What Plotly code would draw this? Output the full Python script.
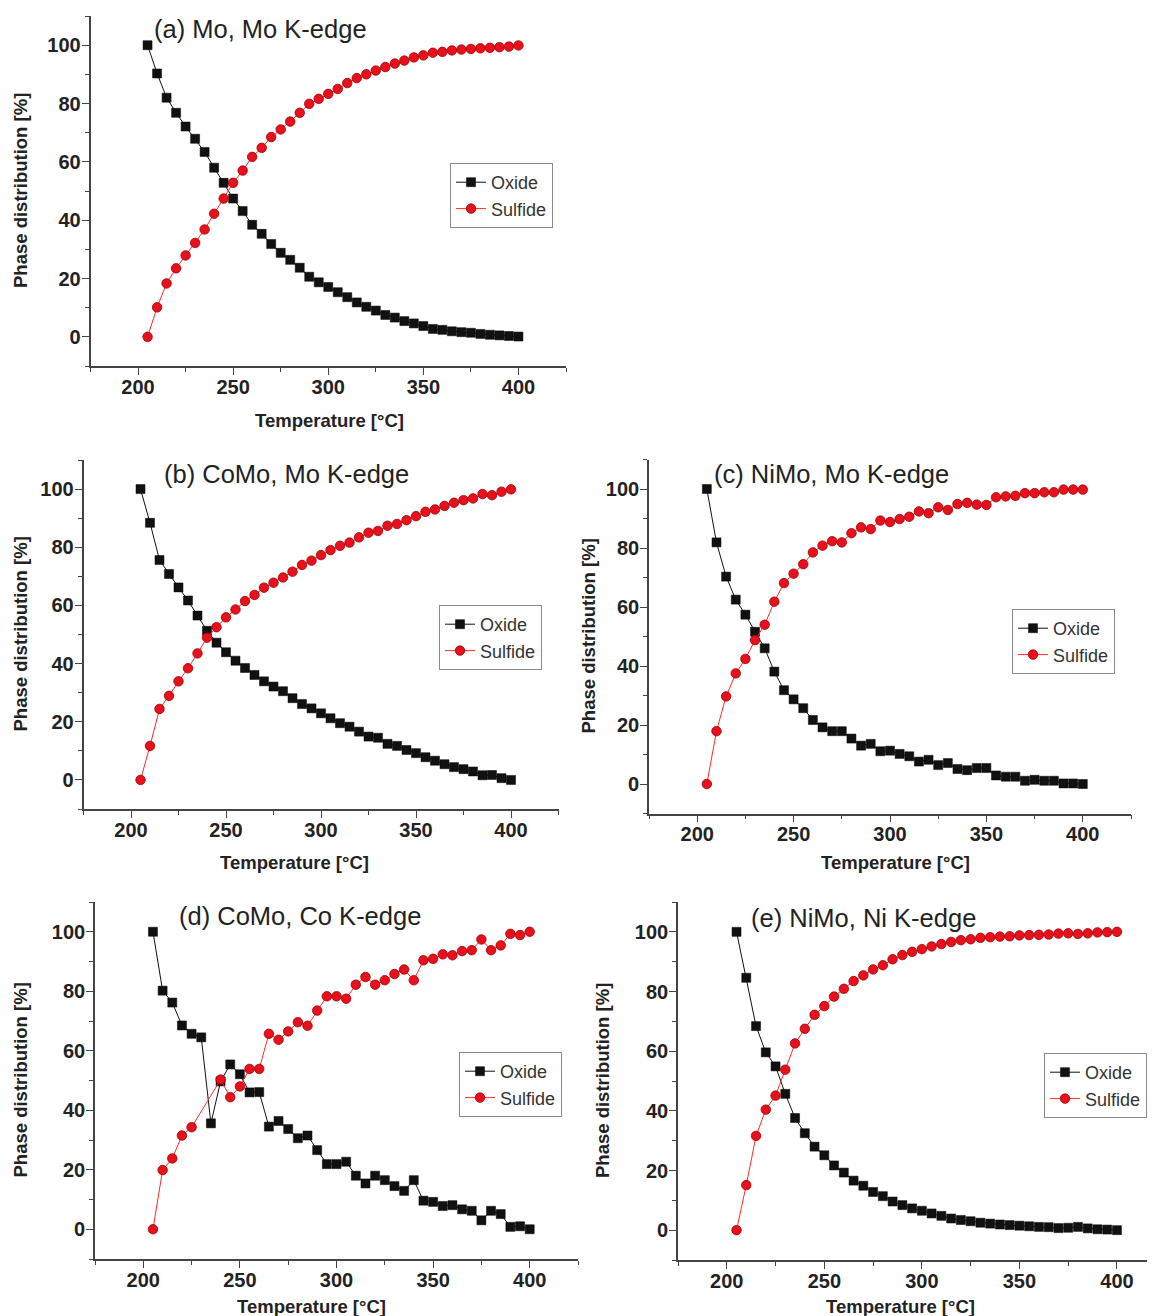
import plotly.graph_objects as go

# ---------------- data ----------------
temperature = [205, 210, 215, 220, 225, 230, 235, 240, 245, 250,
               255, 260, 265, 270, 275, 280, 285, 290, 295, 300,
               305, 310, 315, 320, 325, 330, 335, 340, 345, 350,
               355, 360, 365, 370, 375, 380, 385, 390, 395, 400]

a_oxide = [100, 90.3, 82.0, 76.8, 72.1, 67.9, 63.4, 58.0, 52.8, 47.4,
           43.1, 38.4, 35.3, 31.8, 28.8, 26.4, 23.7, 20.6, 18.7, 17.1,
           15.3, 13.6, 11.8, 10.3, 9.0, 7.5, 6.6, 5.4, 4.6, 3.7,
           2.7, 2.4, 1.9, 1.6, 1.4, 1.0, 0.7, 0.5, 0.3, 0.1]
a_sulfide = [0, 10.1, 18.3, 23.5, 27.9, 32.2, 36.8, 42.2, 47.4, 52.8,
             57.0, 61.7, 64.8, 68.5, 71.1, 73.8, 76.8, 79.9, 81.6, 83.3,
             85.0, 87.0, 88.7, 90.0, 91.3, 92.5, 93.7, 94.7, 95.8, 96.5,
             97.4, 97.7, 98.2, 98.5, 98.7, 98.9, 99.1, 99.3, 99.5, 99.9]

b_oxide = [100, 88.4, 75.6, 70.8, 66.2, 61.7, 56.5, 51.3, 47.2, 43.9,
           41.0, 38.5, 36.1, 33.9, 32.1, 30.5, 28.1, 26.1, 24.6, 22.9,
           21.2, 19.5, 18.3, 16.6, 14.9, 14.5, 12.4, 11.7, 10.3, 9.2,
           7.8, 6.6, 5.4, 4.4, 3.7, 2.9, 1.6, 1.7, 0.6, 0.0]
b_sulfide = [0, 11.7, 24.4, 28.9, 33.9, 38.4, 43.5, 48.9, 52.5, 55.9,
             58.6, 61.5, 63.6, 66.1, 67.8, 69.6, 71.6, 73.9, 75.4, 77.3,
             79.0, 80.5, 81.6, 83.4, 85.0, 85.6, 87.4, 88.0, 89.3, 90.7,
             92.2, 93.0, 94.2, 95.3, 96.2, 96.8, 98.3, 97.9, 99.1, 99.9]

c_oxide = [100, 81.9, 70.3, 62.5, 57.4, 51.6, 46.0, 38.1, 31.8, 28.7,
           25.7, 21.7, 19.2, 17.9, 17.9, 15.4, 13.0, 13.6, 11.1, 11.3,
           10.2, 9.4, 7.6, 8.2, 6.4, 7.1, 5.1, 4.7, 5.4, 5.4,
           2.9, 2.5, 2.5, 1.1, 1.4, 1.1, 1.1, 0.2, 0.2, 0.0]
c_sulfide = [0, 17.9, 29.7, 37.5, 42.4, 48.8, 54.0, 61.8, 68.1, 71.3,
             74.5, 78.5, 80.8, 82.3, 81.9, 85.0, 87.0, 86.4, 89.3, 88.8,
             89.8, 90.6, 92.4, 91.8, 93.8, 92.9, 94.9, 95.3, 94.7, 94.6,
             97.2, 97.5, 97.7, 98.6, 98.6, 98.9, 98.9, 99.8, 99.8, 99.8]

d_oxide = [100, 80.2, 76.2, 68.5, 65.7, 64.5, 35.6, 49.7, 55.4, 52.1,
           46.0, 46.1, 34.5, 36.4, 33.7, 30.6, 31.5, 26.6, 21.9, 21.9,
           22.7, 18.0, 15.4, 18.0, 16.5, 14.5, 12.9, 16.5, 9.6, 9.2,
           7.8, 8.1, 6.7, 6.2, 3.0, 6.2, 5.1, 0.8, 1.0, 0.0]
d_sulfide = [0, 19.9, 23.8, 31.5, 34.3, None, None, 50.3, 44.4, 48.0,
             53.9, 53.9, 65.7, 63.7, 66.5, 69.6, 68.4, 73.5, 78.3, 78.3,
             77.5, 82.2, 84.8, 82.2, 83.7, 85.8, 87.3, 83.7, 90.4, 90.9,
             92.4, 92.1, 93.5, 93.8, 97.4, 93.8, 95.4, 99.3, 98.9, 100.0]

e_oxide = [100, 84.6, 68.4, 59.6, 54.9, 45.7, 37.6, 32.5, 28.0, 25.1,
           21.7, 19.3, 16.6, 14.9, 12.8, 11.4, 9.6, 8.4, 7.3, 6.5,
           5.6, 4.8, 3.9, 3.4, 3.0, 2.5, 2.2, 1.9, 1.7, 1.5,
           1.3, 1.1, 1.0, 0.7, 0.8, 1.1, 0.6, 0.3, 0.2, 0.0]
e_sulfide = [0, 15.1, 31.6, 40.4, 45.1, 53.8, 62.6, 67.5, 72.2, 75.1,
             78.3, 80.9, 83.5, 85.4, 87.4, 88.8, 90.8, 92.2, 93.3, 94.2,
             95.1, 95.9, 96.6, 97.2, 97.5, 98.0, 98.2, 98.4, 98.5, 98.8,
             98.9, 99.0, 99.1, 99.4, 99.5, 99.3, 99.5, 99.8, 99.9, 100.0]

panel_titles = ["(a) Mo, Mo K-edge", "(b) CoMo, Mo K-edge", "(c) NiMo, Mo K-edge",
                "(d) CoMo, Co K-edge", "(e) NiMo, Ni K-edge"]
series_names = ["Oxide", "Sulfide"]
x_title = "Temperature [°C]"
y_title = "Phase distribution [%]"

oxide_sets = [a_oxide, b_oxide, c_oxide, d_oxide, e_oxide]
sulfide_sets = [a_sulfide, b_sulfide, c_sulfide, d_sulfide, e_sulfide]

# ---------------- layout (page pixels of a 1155 x 1316 window) ----------------
OFF = 8                      # default body margin of the html page
W, H = 1155 - OFF, 1316 - OFF

# plot box in page pixels: left, right, top, bottom
boxes = [
    (90.5, 566, 16, 366),
    (83.5, 558.5, 460, 809),
    (649, 1131, 459.5, 813.5),
    (95, 578, 902, 1259),
    (678, 1155, 902, 1260),
]
x_ranges = [[175, 425], [175, 425], [175, 425], [175, 425], [175, 419.5]]
title_pos = [(152, 29), (162, 474), (712, 474), (177, 916), (749, 918)]
legend_pos = [(450, 163), (439, 605), (1012, 609), (459, 1052), (1044, 1053)]
xtitle_pos = [(329, 420), (294, 862), (895, 862), (311, 1306), (900, 1306)]
ytitle_x = [20, 20, 588, 20, 602]


def px(x):
    return (x - OFF) / W


def py(y):
    return 1 - (y - OFF) / H


FONT = "Liberation Sans, Arial, sans-serif"
TXT = "#222222"
AX = "#444444"

fig = go.Figure()
layout = dict(
    width=W, height=H,
    margin=dict(l=0, r=0, t=0, b=0, autoexpand=False),
    paper_bgcolor="white", plot_bgcolor="white",
    font=dict(family=FONT, color=TXT),
    annotations=[],
)

for i in range(5):
    sfx = "" if i == 0 else str(i + 1)
    xa, ya = "x" + sfx, "y" + sfx
    lg = "legend" + sfx
    l, r, t, b = boxes[i]

    fig.add_trace(go.Scatter(
        x=temperature, y=oxide_sets[i], name=series_names[0],
        mode="lines+markers", xaxis=xa, yaxis=ya, legend=lg,
        line=dict(color="#111111", width=1),
        marker=dict(symbol="square", size=9, color="#111111",
                    line=dict(color="#000000", width=0.5)),
        connectgaps=True,
    ))
    fig.add_trace(go.Scatter(
        x=temperature, y=sulfide_sets[i], name=series_names[1],
        mode="lines+markers", xaxis=xa, yaxis=ya, legend=lg,
        line=dict(color="#ff2a2a", width=1),
        marker=dict(symbol="circle", size=9.5, color="#e8101c",
                    line=dict(color="#a00000", width=0.8)),
        connectgaps=True,
    ))

    common = dict(
        showgrid=False, zeroline=False, showline=True,
        linecolor=AX, linewidth=1.6,
        ticks="outside", ticklen=7, tickwidth=1.4, tickcolor=AX,
        tickfont=dict(family=FONT, size=20, color=TXT, weight="bold"),
        fixedrange=True,
    )
    layout["xaxis" + sfx] = dict(
        common,
        domain=[px(l), min(px(r), 1.0)], anchor=ya,
        range=x_ranges[i], tick0=0, dtick=50, ticklabelstandoff=-5,
        minor=dict(ticks="outside", ticklen=4, tickwidth=1.2, tickcolor=AX, dtick=25, tick0=0),
    )
    layout["yaxis" + sfx] = dict(
        common,
        domain=[py(b), py(t)], anchor=xa,
        range=[-10, 110], tick0=0, dtick=20, ticklabelstandoff=-3,
        minor=dict(ticks="outside", ticklen=4, tickwidth=1.2, tickcolor=AX, dtick=10, tick0=0),
    )

    lx, ly = legend_pos[i]
    layout[lg] = dict(
        x=px(lx), y=py(ly), xanchor="left", yanchor="top",
        xref="paper", yref="paper",
        bgcolor="white", bordercolor="#8a8a8a", borderwidth=1,
        font=dict(family=FONT, size=18, color="#333333"),
        tracegroupgap=0, itemsizing="trace",
    )

    tx, ty = title_pos[i]
    layout["annotations"].append(dict(
        text=panel_titles[i], xref="paper", yref="paper",
        x=px(tx), y=py(ty), xanchor="left", yanchor="middle",
        showarrow=False, font=dict(family=FONT, size=25.5, color=TXT),
    ))
    xx, xy = xtitle_pos[i]
    layout["annotations"].append(dict(
        text="<b>" + x_title + "</b>", xref="paper", yref="paper",
        x=px(xx), y=py(xy), xanchor="center", yanchor="middle",
        showarrow=False, font=dict(family=FONT, size=18.5, color=TXT),
    ))
    layout["annotations"].append(dict(
        text="<b>" + y_title + "</b>", xref="paper", yref="paper",
        x=px(ytitle_x[i]), y=py((t + b) / 2), xanchor="center", yanchor="middle",
        textangle=-90, showarrow=False, font=dict(family=FONT, size=18.5, color=TXT),
    ))

fig.update_layout(**layout)
fig.write_html("out.html")
